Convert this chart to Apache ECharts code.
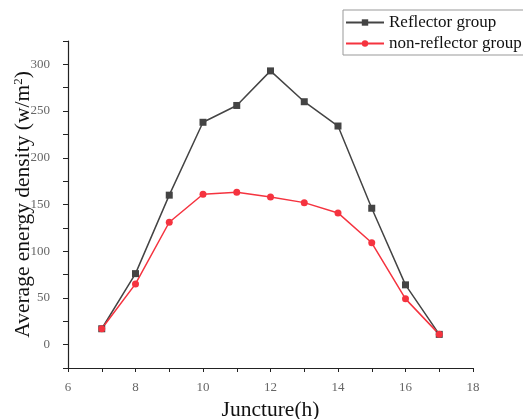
<!DOCTYPE html>
<html>
<head>
<meta charset="utf-8">
<script src="https://cdn.jsdelivr.net/npm/echarts@6/dist/echarts.min.js"></script>
<style>
  html, body { margin: 0; padding: 0; background: #fff; }
  #main { width: 523px; height: 419px; }
</style>
</head>
<body>
<div id="main"></div>
<script>
// 数据
var hours = [7, 8, 9, 10, 11, 12, 13, 14, 15, 16, 17];
var reflector = [17, 76, 160, 238, 256, 293, 260, 234, 146, 64, 11];
var nonReflector = [17, 65, 131, 161, 163, 158, 152, 141, 109, 49, 11];
var seriesNames = ['Reflector group', 'non-reflector group'];

var serif = 'Liberation Serif, Times New Roman, serif';

function pairs(xs, ys) {
  return xs.map(function (x, i) { return [x, ys[i]]; });
}

var chart = echarts.init(document.getElementById('main'), null, { renderer: 'canvas' });

var option = {
  animation: false,
  backgroundColor: '#fff',
  legend: {
    orient: 'vertical',
    left: 343,
    top: 10,
    padding: [4, 3, 3, 2],
    itemWidth: 38,
    itemHeight: 8,
    itemGap: 4,
    borderColor: '#999',
    borderWidth: 1,
    textStyle: { fontFamily: serif, fontSize: 17, color: '#111' },
    data: seriesNames
  },
  grid: {
    left: 68,
    right: 50,
    top: 41,
    bottom: 51,
    outerBoundsMode: 'none'
  },
  xAxis: {
    type: 'value',
    min: 6,
    max: 18,
    interval: 1,
    name: 'Juncture(h)',
    nameLocation: 'middle',
    nameGap: 31,
    nameMoveOverlap: false,
    nameTextStyle: { fontFamily: serif, fontSize: 21.5, color: '#111' },
    axisLine: { onZero: false, lineStyle: { color: '#222', width: 1.2 } },
    axisTick: { show: true, length: 4, lineStyle: { color: '#222' } },
    axisLabel: {
      margin: 13,
      fontFamily: serif,
      fontSize: 13,
      color: '#666',
      formatter: function (v) { return v % 2 === 0 ? String(v) : ''; }
    },
    splitLine: { show: false }
  },
  yAxis: {
    type: 'value',
    min: -25,
    max: 325,
    interval: 25,
    name: '{a|Average energy density (w/m}{s|2}{a|)}',
    nameLocation: 'middle',
    nameGap: 34,
    nameMoveOverlap: false,
    nameTextStyle: {
      fontFamily: serif,
      fontSize: 21.5,
      color: '#111',
      rich: {
        a: { fontFamily: serif, fontSize: 21.5, color: '#111' },
        s: { fontFamily: serif, fontSize: 13, color: '#111', verticalAlign: 'top', padding: [0, 0, 8, 0] }
      }
    },
    axisLine: { show: true, lineStyle: { color: '#222', width: 1.2 } },
    axisTick: { show: true, length: 5, lineStyle: { color: '#222' } },
    axisLabel: {
      margin: 18,
      fontFamily: serif,
      fontSize: 13,
      color: '#666',
      formatter: function (v) { return v % 50 === 0 ? String(v) : ''; }
    },
    splitLine: { show: false }
  },
  series: [
    {
      name: seriesNames[0],
      type: 'line',
      data: pairs(hours, reflector),
      symbol: 'rect',
      symbolSize: 7,
      color: '#444',
      lineStyle: { width: 1.5, color: '#444' },
      itemStyle: { color: '#444' }
    },
    {
      name: seriesNames[1],
      type: 'line',
      data: pairs(hours, nonReflector),
      symbol: 'circle',
      symbolSize: 7,
      color: '#f5333f',
      lineStyle: { width: 1.5, color: '#f5333f' },
      itemStyle: { color: '#f5333f' }
    }
  ]
};

chart.setOption(option);
</script>
</body>
</html>
